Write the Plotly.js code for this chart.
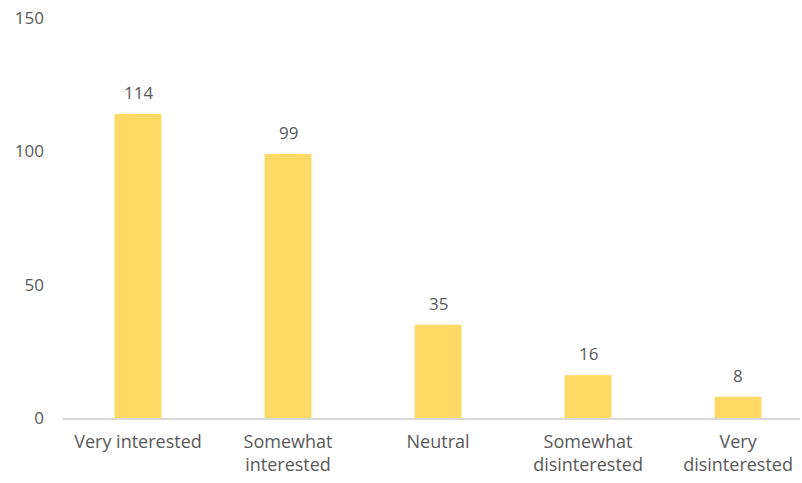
<!DOCTYPE html>
<html><head><meta charset="utf-8">
<script src="https://cdn.plot.ly/plotly-3.0.1.min.js"></script>
<style>html,body{margin:0;padding:0;background:#fff}#c{width:802px;height:483px}</style>
</head><body><div id="c"></div>
<script>
const categories = ["Very interested", "Somewhat<br>interested", "Neutral", "Somewhat<br>disinterested", "Very<br>disinterested"];
const counts = [114, 99, 35, 16, 8];
const yTicks = [0, 50, 100, 150];

const font = "'Open Sans', sans-serif";
const grey = "#595959";
Plotly.newPlot("c", [{
  type: "bar",
  x: categories,
  y: counts,
  marker: {color: "#FFD966"},
  hoverinfo: "none"
}], {
  width: 802, height: 483,
  margin: {l: 63, r: 2, t: 18, b: 65},
  paper_bgcolor: "#fff", plot_bgcolor: "#fff",
  bargap: 0.687,
  showlegend: false,
  font: {family: font, size: 17, color: grey},
  annotations: categories.map((c, i) => ({
    x: c, y: counts[i], text: String(counts[i]), showarrow: false,
    yanchor: "bottom", yshift: 8, font: {family: font, size: 17, color: grey}
  })),
  xaxis: {range: [-0.5, 4.413], showline: true, linecolor: "#D9D9D9", linewidth: 2, ticks: "", ticklabelstandoff: 6, tickfont: {family: font, size: 18, color: grey}, fixedrange: true},
  yaxis: {range: [0, 150], tickvals: yTicks, showgrid: false, zeroline: false, showline: false, ticks: "", ticklabelstandoff: 18, tickfont: {family: font, size: 17, color: grey}, fixedrange: true}
}, {displayModeBar: false, staticPlot: true});
</script></body></html>
